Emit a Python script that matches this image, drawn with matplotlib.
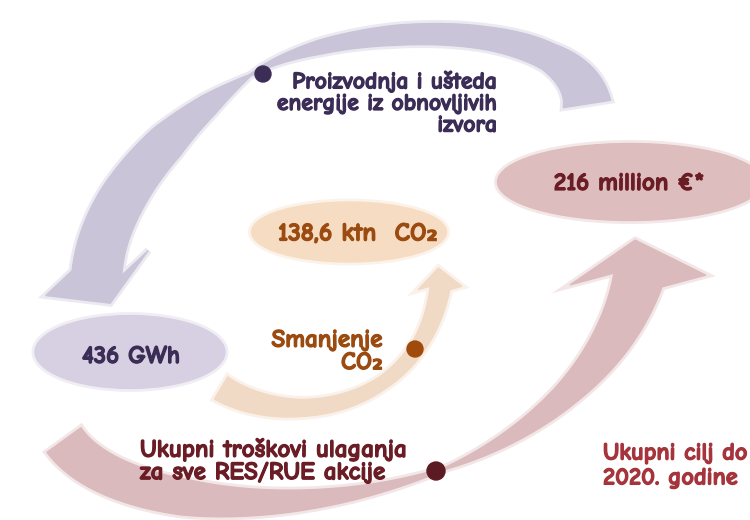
import numpy as np
import matplotlib
matplotlib.use("Agg")
import matplotlib.pyplot as plt
import matplotlib.patheffects as pe
from matplotlib.patches import Polygon, Ellipse, Circle

# texts / values shown on the diagram
energy_value = "436 GWh"
co2_value = "138,6 ktn  CO₂"
cost_value = "216 million €*"
energy_label = ["Proizvodnja i ušteda", "energije iz obnovljivih", "izvora"]
co2_label = ["Smanjenje", "CO₂"]
cost_label = ["Ukupni troškovi ulaganja", "za sve RES/RUE akcije"]
target_label = ["Ukupni cilj do", "2020. godine"]

# colours
lav_band, lav_fill, lav_text = "#cac4d8", "#d6d0e2", "#3b2d55"
peach_band, peach_fill, peach_text = "#f1dac5", "#f6dcc3", "#9b4b10"
mauve_band, mauve_fill, mauve_text = "#dbbabd", "#ddbdbd", "#6b1d26"
target_text = "#a5343c"

FONT = ["Comic Neue", "DejaVu Sans"]


def bezier(p0, p1, p2, p3, n=150):
    t = np.linspace(0, 1, n)[:, None]
    p0, p1, p2, p3 = map(np.asarray, (p0, p1, p2, p3))
    return ((1 - t) ** 3 * p0 + 3 * (1 - t) ** 2 * t * p1
            + 3 * (1 - t) * t ** 2 * p2 + t ** 3 * p3)


def arrow_shape(segs, ws, ww, rot, hw, hl):
    pts = np.vstack([bezier(*s) for s in segs])
    d = np.r_[0, np.cumsum(np.hypot(*np.diff(pts, axis=0).T))]
    keep = np.r_[True, np.diff(d) > 1e-9]
    pts, d = pts[keep], d[keep]
    s = d / d[-1]
    w = np.interp(s, ws, ww) / 2
    tan = np.gradient(pts, axis=0)
    tan /= np.hypot(tan[:, 0], tan[:, 1])[:, None]
    nrm = np.c_[-tan[:, 1], tan[:, 0]]
    left = pts + nrm * w[:, None]
    right = pts - nrm * w[:, None]
    poly = [left]
    if hw > 0:
        a = np.radians(rot)
        tx, ty = tan[-1]
        hd = np.array([tx * np.cos(a) - ty * np.sin(a), tx * np.sin(a) + ty * np.cos(a)])
        hn = np.array([-hd[1], hd[0]])
        e = pts[-1]
        poly.append([e + hn * hw, e + hd * hl, e - hn * hw])
    poly.append(right[::-1])
    return np.vstack(poly)


def soft_patch(ax, patch_fn, color):
    ax.add_patch(patch_fn(fc="none", ec=color, lw=5, alpha=0.35))
    ax.add_patch(patch_fn(fc=color, ec=color, lw=1))


def label(ax, x, y, txt, color, size, **kw):
    ax.text(x, y, txt, color=color, fontsize=size, weight="bold", family=FONT,
            path_effects=[pe.withStroke(linewidth=0.9, foreground=color)], **kw)


fig = plt.figure(figsize=(7.5, 5.2), dpi=100)
ax = fig.add_axes([0, 0, 1, 1])
ax.set_xlim(0, 750)
ax.set_ylim(520, 0)
ax.set_aspect("auto")
ax.axis("off")

# lavender arc: over the top, thin at the dot, down to 436 GWh
lav = arrow_shape([((587, 104), (575, 18), (360, 18), (262, 68)),
                   ((262, 68), (202, 104), (105, 180), (97, 273))],
                  [0, 0.1, 0.2, 0.35, 0.47, 0.59, 0.67, 0.76, 0.88, 1],
                  [48, 28, 23, 20, 14, 2, 22, 38, 46, 50],
                  rot=-29, hw=56, hl=33)
soft_patch(ax, lambda **k: Polygon(lav, closed=True, **k), lav_band)

# peach arc: up to CO2 value
pea = arrow_shape([((221, 388), (290, 430), (420, 410), (440, 288))],
                  [0, 0.3, 0.6, 0.8, 1], [26, 17, 13, 15, 20],
                  rot=-14, hw=22, hl=20)
soft_patch(ax, lambda **k: Polygon(pea, closed=True, **k), peach_band)

# mauve arc: along the bottom, thin at the dot, up to the cost value
mau = arrow_shape([((64, 440), (110, 505), (280, 525), (435, 472)),
                   ((435, 472), (515, 445), (610, 380), (638, 280))],
                  [0, 0.2, 0.4, 0.5, 0.59, 0.7, 0.8, 0.9, 1],
                  [42, 36, 18, 9, 2, 14, 25, 38, 50],
                  rot=-20, hw=68, hl=40)
soft_patch(ax, lambda **k: Polygon(mau, closed=True, **k), mauve_band)

# value ellipses
soft_patch(ax, lambda **k: Ellipse((130, 352), 190, 73, **k), lav_fill)
soft_patch(ax, lambda **k: Ellipse((349, 232), 195, 60, **k), peach_fill)
soft_patch(ax, lambda **k: Ellipse((630, 182), 265, 77, **k), mauve_fill)

label(ax, 131, 357, energy_value, lav_text, 18, ha="center", va="center")
label(ax, 358, 234, co2_value, peach_text, 18.5, ha="center", va="center")
label(ax, 629, 184, cost_value, mauve_text, 18, ha="center", va="center")

# labels and dots
ax.add_patch(Circle((263, 74), 8, color=lav_text))
label(ax, 497, 103, "\n".join(energy_label), lav_text, 17, ha="right", va="center",
      multialignment="right", linespacing=1.1)

ax.add_patch(Circle((415, 349), 8, color="#a04a0c"))
label(ax, 383, 352, "\n".join(co2_label), peach_text, 18, ha="right", va="center",
      multialignment="right", linespacing=1.15)

ax.add_patch(Circle((436, 471), 9, color="#5c1a22"))
label(ax, 140, 461, "\n".join(cost_label), mauve_text, 18, ha="left", va="center",
      linespacing=1.15)

label(ax, 603, 466, "\n".join(target_label), target_text, 17.5, ha="left", va="center",
      linespacing=1.3)

fig.savefig("out.png", dpi=100)
